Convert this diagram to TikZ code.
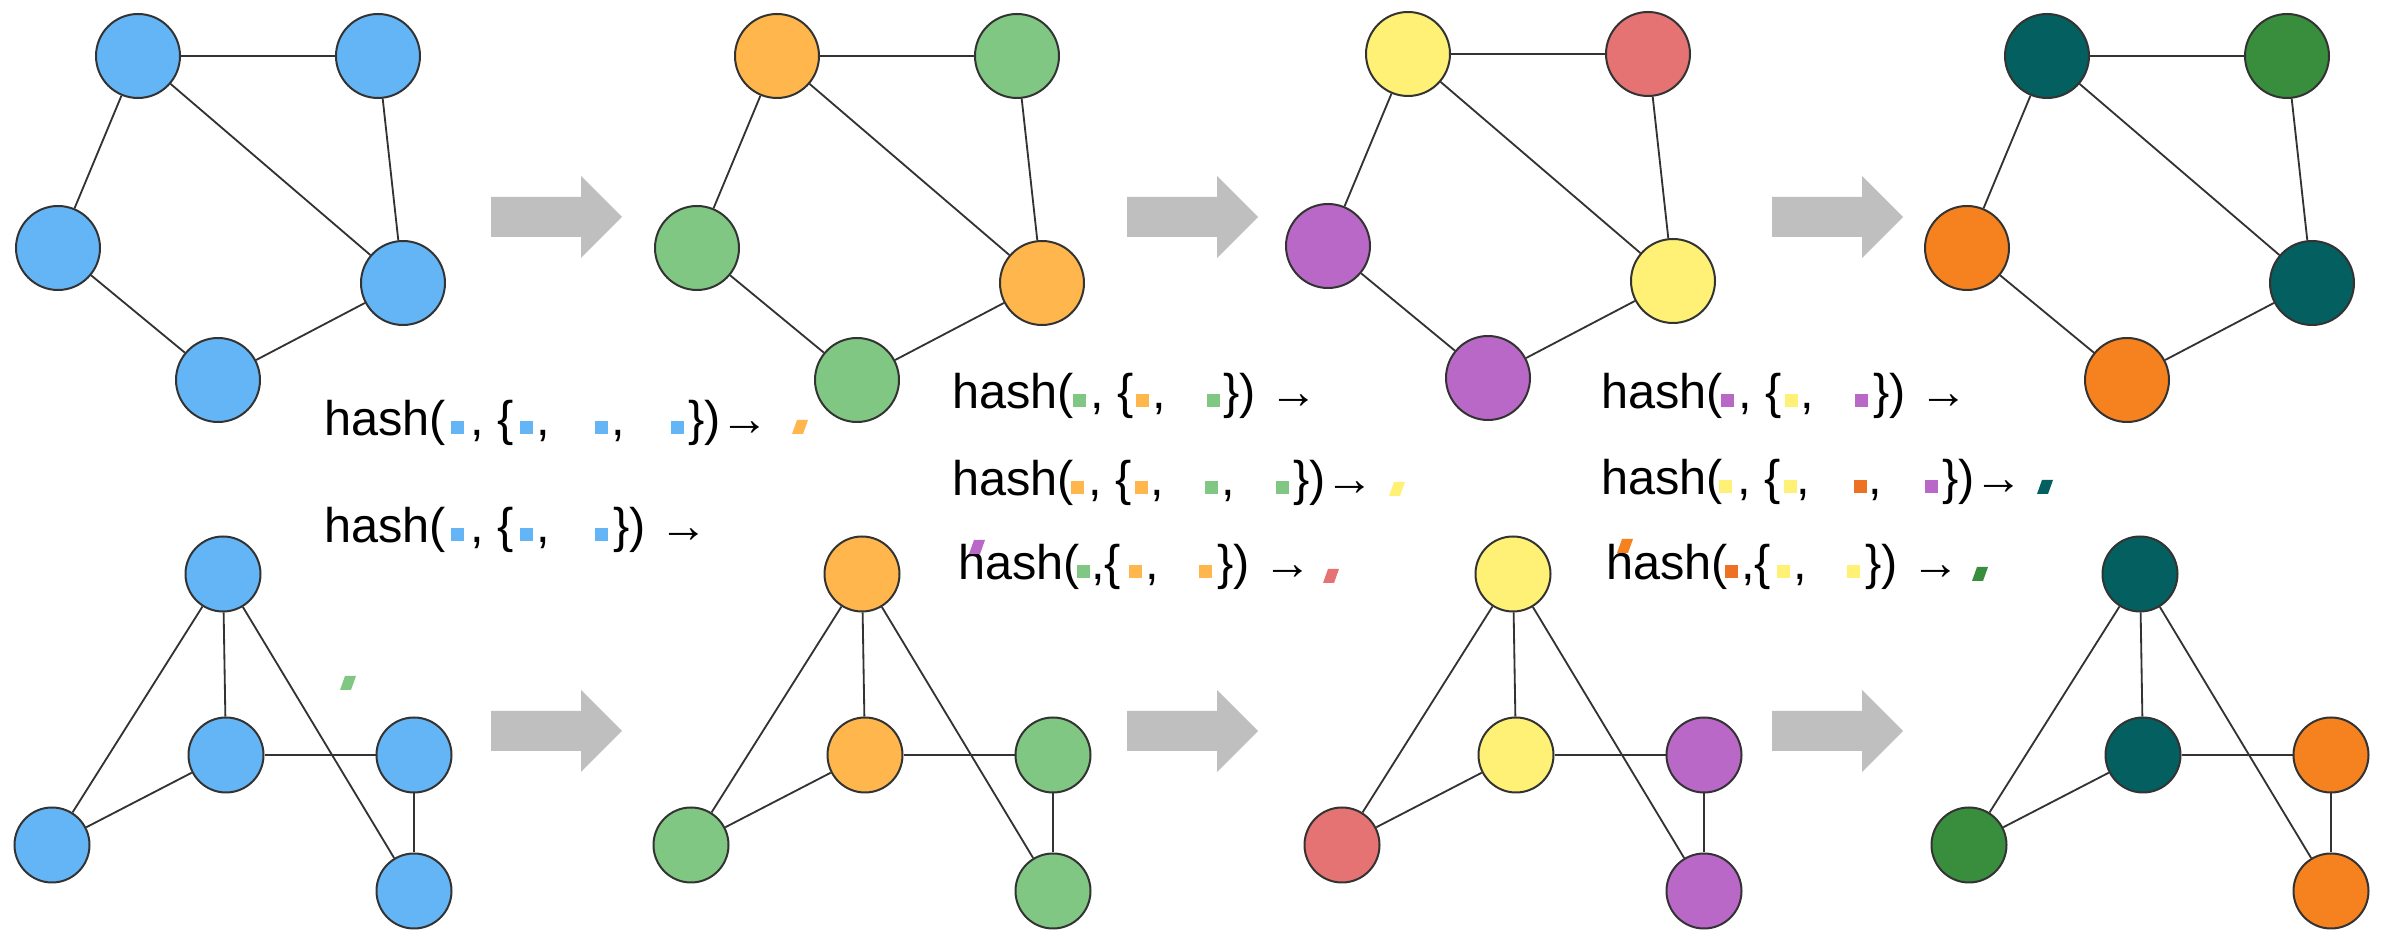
\documentclass[tikz,border=0pt]{standalone}
\usepackage{fontspec}
\setmainfont{Liberation Sans}

\definecolor{cBlue}{HTML}{64B5F6}
\definecolor{cOrL}{HTML}{FFB74D}
\definecolor{cGrL}{HTML}{81C784}
\definecolor{cYel}{HTML}{FFF176}
\definecolor{cRed}{HTML}{E57373}
\definecolor{cPur}{HTML}{BA68C8}
\definecolor{cTeal}{HTML}{045F60}
\definecolor{cGrD}{HTML}{388E3C}
\definecolor{cOrD}{HTML}{F5821F}
\definecolor{cOrX}{HTML}{EE7022}
\definecolor{lineC}{HTML}{333333}
\definecolor{arrowC}{HTML}{BFBFBF}

% one drawing unit = 0.3pt
\newdimen\pxu \pxu=0.3pt
% place a piece of a hash line at a fixed offset from the line origin
\newcommand\at[2]{\rlap{\hskip#1\pxu\relax#2}}
% small colour chip standing for a node label
\newcommand\sq[1]{\textcolor{#1}{\rule[0.6pt]{3.9pt}{3.9pt}}}
% slanted chip standing for a new hashed label
\newcommand\pgram[3]{\fill[#1] (#2,#3) -- ++(11,0) -- ++(5,-14) -- ++(-11,0) -- cycle;}

\begin{document}
\begin{tikzpicture}[x=0.3pt,y=-0.3pt,
  vtx/.style={circle,draw=lineC,line width=0.6pt,inner sep=0pt},
  bigvtx/.style={vtx,minimum size=25.2pt},
  smallvtx/.style={vtx,minimum size=22.5pt},
  edge/.style={draw=lineC,line width=0.55pt},
  hashline/.style={anchor=base west,inner sep=0pt,font=\fontsize{14.6}{17}\selectfont},
  blockarrow/.style={fill=arrowC}]

\useasboundingbox (0,0) rectangle (2382,936);

% upper row: five-node graph, one copy per refinement step
\foreach \g/\dx/\dy/\ca/\cb/\cc/\cd/\ce in {
    1/0/0/cBlue/cBlue/cBlue/cBlue/cBlue,
    2/639/0/cOrL/cGrL/cGrL/cOrL/cGrL,
    3/1270/-2/cYel/cRed/cPur/cYel/cPur,
    4/1909/0/cTeal/cGrD/cOrD/cTeal/cOrD}{
  \begin{scope}[shift={(\dx,\dy)}]
    \node[bigvtx,fill=\ca] (t\g a) at (138,56) {};
    \node[bigvtx,fill=\cb] (t\g b) at (378,56) {};
    \node[bigvtx,fill=\cc] (t\g c) at (58,248) {};
    \node[bigvtx,fill=\cd] (t\g d) at (403,283) {};
    \node[bigvtx,fill=\ce] (t\g e) at (218,380) {};
    \draw[edge] (t\g a) -- (t\g b);
    \draw[edge] (t\g a) -- (t\g c);
    \draw[edge] (t\g a) -- (t\g d);
    \draw[edge] (t\g b) -- (t\g d);
    \draw[edge] (t\g c) -- (t\g e);
    \draw[edge] (t\g e) -- (t\g d);
  \end{scope}
}

% lower row: second five-node graph
\foreach \g/\dx/\ca/\cb/\cc/\cd/\ce in {
    1/0/cBlue/cBlue/cBlue/cBlue/cBlue,
    2/639/cOrL/cOrL/cGrL/cGrL/cGrL,
    3/1290/cYel/cYel/cRed/cPur/cPur,
    4/1917/cTeal/cTeal/cGrD/cOrD/cOrD}{
  \begin{scope}[shift={(\dx,0)}]
    \node[smallvtx,fill=\ca] (b\g p) at (223,574) {};
    \node[smallvtx,fill=\cb] (b\g q) at (226,755) {};
    \node[smallvtx,fill=\cc] (b\g r) at (52,845) {};
    \node[smallvtx,fill=\cd] (b\g s) at (414,755) {};
    \node[smallvtx,fill=\ce] (b\g t) at (414,891) {};
    \draw[edge] (b\g p) -- (b\g q);
    \draw[edge] (b\g p) -- (b\g r);
    \draw[edge] (b\g p) -- (b\g t);
    \draw[edge] (b\g q) -- (b\g r);
    \draw[edge] (b\g q) -- (b\g s);
    \draw[edge] (b\g s) -- (b\g t);
  \end{scope}
}

% grey block arrows between the steps
\foreach \ax in {491,1127,1772}{
  \foreach \ay in {217,731}{
    \fill[blockarrow] (\ax,\ay-20) -- (\ax+90,\ay-20) -- (\ax+90,\ay-41)
      -- (\ax+131,\ay) -- (\ax+90,\ay+41) -- (\ax+90,\ay+20) -- (\ax,\ay+20) -- cycle;
  }
}

% hash lines, first step
\node[hashline] (h1a) at (0,436) {\at{322}{hash(}\at{449}{\sq{cBlue}}\at{468}{, \{}\at{518}{\sq{cBlue}}\at{534}{,}\at{593}{\sq{cBlue}}\at{609}{,}\at{669}{\sq{cBlue}}\at{686}{\})→}};
\node[hashline] (h1b) at (0,543) {\at{322}{hash(}\at{449}{\sq{cBlue}}\at{468}{, \{}\at{518}{\sq{cBlue}}\at{534}{,}\at{593}{\sq{cBlue}}\at{611}{\}) →}};
\pgram{cOrL}{792}{434}
\pgram{cGrL}{340}{690}

% hash lines, second step
\node[hashline] (h2a) at (0,409) {\at{950}{hash(}\at{1071}{\sq{cGrL}}\at{1088}{, \{}\at{1134}{\sq{cOrL}}\at{1150}{,}\at{1205}{\sq{cGrL}}\at{1221}{\}) →}};
\node[hashline] (h2b) at (0,496) {\at{950}{hash(}\at{1069}{\sq{cOrL}}\at{1086}{, \{}\at{1133}{\sq{cOrL}}\at{1148}{,}\at{1203}{\sq{cGrL}}\at{1219}{,}\at{1274}{\sq{cGrL}}\at{1291}{\})→}};
\node[hashline] (h2c) at (0,580) {\at{956}{hash(}\at{1075}{\sq{cGrL}}\at{1089}{,\{}\at{1127}{\sq{cOrL}}\at{1143}{,}\at{1197}{\sq{cOrL}}\at{1215}{\}) →}};
\pgram{cYel}{1389}{496}
\pgram{cRed}{1323}{583}
\pgram{cPur}{969}{554}

% hash lines, third step
\node[hashline] (h3a) at (0,409) {\at{1599}{hash(}\at{1719}{\sq{cPur}}\at{1736}{, \{}\at{1783}{\sq{cYel}}\at{1798}{,}\at{1853}{\sq{cPur}}\at{1871}{\}) →}};
\node[hashline] (h3b) at (0,495) {\at{1599}{hash(}\at{1717}{\sq{cYel}}\at{1735}{, \{}\at{1782}{\sq{cYel}}\at{1794}{,}\at{1852}{\sq{cOrX}}\at{1866}{,}\at{1923}{\sq{cPur}}\at{1940}{\})→}};
\node[hashline] (h3c) at (0,580) {\at{1604}{hash(}\at{1723}{\sq{cOrX}}\at{1739}{,\{}\at{1775}{\sq{cYel}}\at{1791}{,}\at{1845}{\sq{cYel}}\at{1863}{\}) →}};
\pgram{cTeal}{2037}{494}
\pgram{cGrD}{1972}{581}
\pgram{cOrD}{1617}{553}

\end{tikzpicture}
\end{document}
